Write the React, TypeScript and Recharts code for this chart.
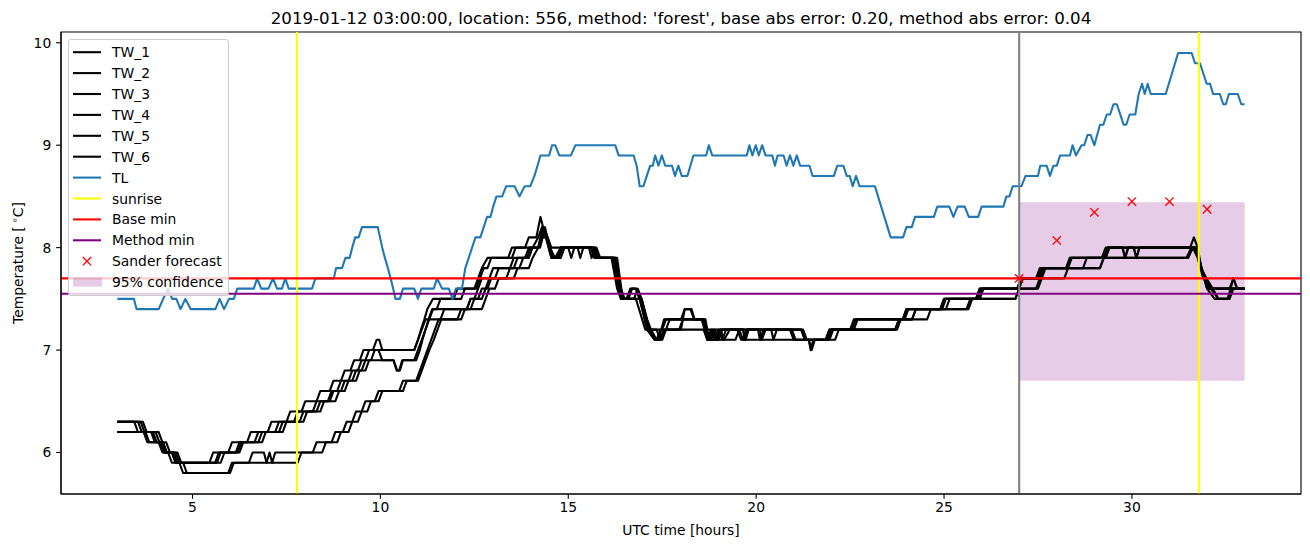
import React from 'react';
import { ComposedChart, Line, XAxis, YAxis, ReferenceLine, ReferenceArea } from 'recharts';

type P = [number, number];

const TITLE = "2019-01-12 03:00:00, location: 556, method: 'forest', base abs error: 0.20, method abs error: 0.04";
const X_LABEL = 'UTC time [hours]';
const X_DOMAIN: [number, number] = [1.5, 34.5];
const Y_DOMAIN: [number, number] = [5.595, 10.105];
const X_TICKS = [5, 10, 15, 20, 25, 30];
const Y_TICKS = [6, 7, 8, 9, 10];

const SUNRISE = [7.78, 31.78];
const FORECAST_START = 27;
const BASE_MIN = 7.7;
const METHOD_MIN = 7.55;
const BAND_T: [number, number] = [27, 33];
const BAND_LO = 6.70;
const BAND_HI = 8.443;

const FORECAST_T = [27, 28, 29, 30, 31, 32];
const FORECAST_V = [7.70, 8.07, 8.345, 8.45, 8.45, 8.375];

const TL: P[] = [[3.0,7.5],[3.44,7.5],[3.51,7.4],[4.1,7.4],[4.22,7.5],[4.35,7.6],[4.46,7.5],[4.57,7.5],[4.68,7.4],[4.81,7.5],[4.95,7.4],[5.61,7.4],[5.72,7.5],[5.84,7.4],[5.97,7.5],[6.1,7.5],[6.19,7.6],[6.63,7.6],[6.72,7.7],[6.83,7.6],[7.02,7.6],[7.14,7.7],[7.25,7.6],[7.38,7.6],[7.47,7.7],[7.56,7.6],[8.18,7.6],[8.27,7.7],[8.76,7.7],[8.82,7.8],[8.98,7.8],[9.07,7.9],[9.18,7.9],[9.25,8.0],[9.33,8.1],[9.42,8.1],[9.51,8.2],[9.93,8.2],[10.05,8.0],[10.12,7.9],[10.2,7.8],[10.27,7.7],[10.34,7.6],[10.4,7.5],[10.52,7.5],[10.6,7.6],[10.9,7.6],[11.0,7.5],[11.09,7.6],[11.42,7.6],[11.51,7.7],[11.64,7.6],[11.82,7.6],[11.92,7.5],[12.01,7.6],[12.17,7.6],[12.26,7.8],[12.35,7.9],[12.44,8.0],[12.53,8.1],[12.66,8.1],[12.75,8.2],[12.84,8.3],[12.93,8.3],[13.0,8.4],[13.09,8.5],[13.24,8.5],[13.35,8.6],[13.57,8.6],[13.7,8.5],[13.84,8.6],[13.99,8.6],[14.1,8.7],[14.18,8.8],[14.26,8.9],[14.49,8.9],[14.57,9.0],[14.65,9.0],[14.76,8.9],[15.07,8.9],[15.19,9.0],[16.25,9.0],[16.34,8.9],[16.74,8.9],[16.82,8.8],[16.9,8.6],[17.0,8.6],[17.09,8.7],[17.18,8.8],[17.25,8.8],[17.31,8.9],[17.4,8.8],[17.49,8.9],[17.58,8.8],[17.76,8.8],[17.84,8.7],[17.93,8.8],[18.02,8.7],[18.17,8.7],[18.25,8.8],[18.33,8.9],[18.67,8.9],[18.74,9.0],[18.83,8.9],[19.75,8.9],[19.82,9.0],[19.9,8.9],[19.99,9.0],[20.07,8.9],[20.16,9.0],[20.25,8.9],[20.43,8.9],[20.5,8.8],[20.57,8.9],[20.73,8.9],[20.81,8.8],[20.9,8.9],[20.99,8.8],[21.08,8.9],[21.17,8.8],[21.42,8.8],[21.5,8.7],[22.07,8.7],[22.16,8.8],[22.32,8.8],[22.41,8.7],[22.49,8.7],[22.57,8.6],[22.66,8.7],[22.75,8.6],[23.16,8.6],[23.58,8.1],[23.91,8.1],[24.0,8.2],[24.14,8.2],[24.23,8.3],[24.73,8.3],[24.82,8.4],[25.14,8.4],[25.25,8.3],[25.36,8.4],[25.55,8.4],[25.66,8.3],[25.91,8.3],[26.0,8.4],[26.58,8.4],[26.66,8.5],[26.74,8.5],[26.83,8.6],[27.06,8.6],[27.17,8.7],[27.5,8.7],[27.56,8.8],[27.73,8.8],[27.82,8.7],[27.91,8.8],[28.0,8.8],[28.09,8.9],[28.35,8.9],[28.42,9.0],[28.51,8.9],[28.66,9.0],[28.73,9.0],[28.82,9.1],[28.9,9.1],[29.0,9.0],[29.15,9.2],[29.24,9.2],[29.33,9.3],[29.42,9.3],[29.51,9.4],[29.6,9.4],[29.78,9.2],[29.85,9.2],[29.94,9.3],[30.09,9.3],[30.18,9.5],[30.27,9.6],[30.34,9.5],[30.42,9.6],[30.5,9.5],[30.9,9.5],[31.23,9.9],[31.59,9.9],[31.68,9.8],[31.81,9.8],[31.99,9.6],[32.08,9.6],[32.16,9.5],[32.34,9.5],[32.43,9.4],[32.5,9.4],[32.58,9.5],[32.82,9.5],[32.91,9.4],[33.0,9.4]];

const TW_1: P[] = [[3,6.3],[3.55,6.3],[3.65,6.2],[3.95,6.2],[4.05,6.1],[4.15,6.1],[4.25,6.0],[4.35,6.0],[4.45,5.9],[5.45,5.9],[5.55,6.0],[5.95,6.0],[6.05,6.1],[6.45,6.1],[6.55,6.2],[7.0,6.2],[7.1,6.3],[7.5,6.3],[7.6,6.4],[7.9,6.4],[8.0,6.5],[8.3,6.5],[8.4,6.6],[8.65,6.6],[8.75,6.7],[8.95,6.7],[9.05,6.8],[9.2,6.8],[9.3,6.9],[9.45,6.9],[9.55,7.0],[9.8,7.0],[9.9,7.1],[9.97,7.1],[10.05,7.0],[10.9,7.0],[11.0,7.1],[11.08,7.2],[11.17,7.3],[11.25,7.4],[11.4,7.5],[11.95,7.5],[12.05,7.6],[12.5,7.6],[12.6,7.7],[12.7,7.8],[12.85,7.9],[13.4,7.9],[13.5,8.0],[13.85,8.0],[13.95,8.1],[14.15,8.1],[14.26,8.3],[14.4,8.1],[14.55,7.9],[14.7,7.9],[14.8,8.0],[15.6,8.0],[15.7,7.9],[16.15,7.9],[16.3,7.6],[16.4,7.5],[16.6,7.5],[16.7,7.6],[16.8,7.6],[16.9,7.5],[17.1,7.2],[17.3,7.1],[17.42,7.1],[17.55,7.2],[17.95,7.2],[18.05,7.3],[18.6,7.3],[18.7,7.1],[18.8,7.2],[18.9,7.1],[19.0,7.2],[19.1,7.1],[19.2,7.2],[20.1,7.2],[20.15,7.1],[20.25,7.2],[21.2,7.2],[21.3,7.1],[21.85,7.1],[21.95,7.2],[22.5,7.2],[22.6,7.3],[23.9,7.3],[24.0,7.4],[24.9,7.4],[25.0,7.5],[25.85,7.5],[25.95,7.6],[26.95,7.6],[27.05,7.7],[27.5,7.7],[27.6,7.8],[28.25,7.8],[28.35,7.9],[29.2,7.9],[29.3,8.0],[29.75,8.0],[29.82,7.9],[29.9,8.0],[31.55,8.0],[31.65,8.1],[31.75,8.0],[31.85,7.8],[32.0,7.6],[32.6,7.6],[32.7,7.7],[32.8,7.6],[33,7.6]];

const TW_2: P[] = [[3,6.3],[3.62,6.3],[3.72,6.2],[4.02,6.2],[4.12,6.1],[4.22,6.1],[4.32,6.0],[4.45,6.0],[4.55,5.9],[5.6,5.9],[5.7,6.0],[6.15,6.0],[6.25,6.1],[6.65,6.1],[6.75,6.2],[7.2,6.2],[7.3,6.3],[7.7,6.3],[7.8,6.4],[8.2,6.4],[8.3,6.5],[8.6,6.5],[8.7,6.6],[8.85,6.6],[8.95,6.7],[9.15,6.7],[9.25,6.8],[9.4,6.8],[9.5,6.9],[9.6,6.9],[9.7,7.0],[9.95,7.0],[10.05,6.9],[10.35,6.9],[10.43,6.8],[10.5,6.8],[10.58,6.9],[10.95,6.9],[11.05,7.0],[11.12,7.1],[11.2,7.2],[11.28,7.3],[11.38,7.4],[11.5,7.4],[11.6,7.5],[12.15,7.5],[12.25,7.6],[12.55,7.6],[12.65,7.7],[12.75,7.8],[12.85,7.8],[12.95,7.9],[13.5,7.9],[13.6,8.0],[14.2,8.0],[14.32,8.2],[14.42,8.1],[14.52,8.0],[14.62,7.9],[14.8,7.9],[14.9,8.0],[15.0,8.0],[15.08,7.9],[15.16,8.0],[15.65,8.0],[15.75,7.9],[16.2,7.9],[16.35,7.6],[16.45,7.5],[16.75,7.5],[16.85,7.6],[16.95,7.5],[17.15,7.2],[17.35,7.1],[17.5,7.1],[17.6,7.2],[18.0,7.2],[18.1,7.4],[18.28,7.4],[18.36,7.3],[18.62,7.3],[18.75,7.1],[18.85,7.2],[18.95,7.1],[19.05,7.2],[19.15,7.1],[19.3,7.2],[19.65,7.2],[19.7,7.1],[19.78,7.2],[20.4,7.2],[20.46,7.1],[20.55,7.2],[21.25,7.2],[21.35,7.1],[21.9,7.1],[22.0,7.2],[22.6,7.2],[22.7,7.3],[24.15,7.3],[24.25,7.4],[25.05,7.4],[25.15,7.5],[25.9,7.5],[26.0,7.6],[26.95,7.6],[27.05,7.7],[27.55,7.7],[27.65,7.8],[28.3,7.8],[28.4,7.9],[29.3,7.9],[29.4,8.0],[31.72,8.0],[31.85,7.8],[32.05,7.6],[33,7.6]];

const TW_3: P[] = [[3,6.3],[3.68,6.3],[3.78,6.2],[4.1,6.2],[4.2,6.1],[4.3,6.1],[4.4,6.0],[4.55,6.0],[4.65,5.9],[5.65,5.9],[5.75,6.0],[6.2,6.0],[6.3,6.1],[6.75,6.1],[6.85,6.2],[7.3,6.2],[7.4,6.3],[7.85,6.3],[7.95,6.4],[8.3,6.4],[8.4,6.5],[8.65,6.5],[8.75,6.6],[8.95,6.6],[9.05,6.7],[9.25,6.7],[9.35,6.8],[9.5,6.8],[9.6,6.9],[9.75,6.9],[9.85,7.0],[10.9,7.0],[11.0,7.1],[11.1,7.2],[11.2,7.3],[11.3,7.3],[11.4,7.4],[12.3,7.4],[12.4,7.5],[12.7,7.5],[12.8,7.6],[12.9,7.7],[13.0,7.8],[13.55,7.8],[13.65,7.9],[13.9,7.9],[14.0,8.0],[14.2,8.0],[14.35,8.2],[14.45,8.1],[14.6,7.9],[14.75,7.9],[14.85,8.0],[15.55,8.0],[15.62,7.9],[15.7,8.0],[15.8,7.9],[16.25,7.9],[16.4,7.5],[16.8,7.5],[17.05,7.2],[17.35,7.2],[17.45,7.1],[17.6,7.2],[17.7,7.3],[18.55,7.3],[18.7,7.2],[19.55,7.2],[19.65,7.1],[19.75,7.2],[20.9,7.2],[21.0,7.1],[21.4,7.1],[21.45,7.0],[21.52,7.1],[22.1,7.1],[22.2,7.2],[23.75,7.2],[23.85,7.3],[24.55,7.3],[24.65,7.4],[25.65,7.4],[25.75,7.5],[26.9,7.5],[27.0,7.6],[27.5,7.6],[27.6,7.7],[27.7,7.8],[29.15,7.8],[29.25,7.9],[31.45,7.9],[31.58,8.0],[31.7,8.0],[31.85,7.8],[32.1,7.6],[32.3,7.5],[32.55,7.5],[32.65,7.6],[33,7.6]];

const TW_4: P[] = [[3,6.2],[3.75,6.2],[3.85,6.1],[4.2,6.1],[4.3,6.0],[4.6,6.0],[4.7,5.9],[5.75,5.9],[5.85,6.0],[6.25,6.0],[6.35,6.1],[6.85,6.1],[6.95,6.2],[7.4,6.2],[7.5,6.3],[7.95,6.3],[8.05,6.4],[8.4,6.4],[8.5,6.5],[8.8,6.5],[8.9,6.6],[9.05,6.6],[9.15,6.7],[9.35,6.7],[9.45,6.8],[9.6,6.8],[9.7,6.9],[10.35,6.9],[10.45,6.8],[10.52,6.8],[10.6,6.9],[10.9,6.9],[11.0,7.0],[11.1,7.1],[11.2,7.2],[11.3,7.3],[11.6,7.3],[11.7,7.4],[12.4,7.4],[12.5,7.5],[12.6,7.6],[12.7,7.7],[13.05,7.7],[13.15,7.8],[13.45,7.8],[13.55,7.9],[13.85,7.9],[13.95,8.0],[14.25,8.0],[14.38,8.2],[14.5,8.0],[14.65,7.9],[14.8,8.0],[15.7,8.0],[15.8,7.9],[16.25,7.9],[16.4,7.6],[16.5,7.5],[16.95,7.5],[17.1,7.3],[17.2,7.2],[17.35,7.1],[17.45,7.2],[18.6,7.2],[18.7,7.1],[19.45,7.1],[19.55,7.2],[20.95,7.2],[21.05,7.1],[21.9,7.1],[22.0,7.2],[22.55,7.2],[22.65,7.3],[23.95,7.3],[24.05,7.4],[24.95,7.4],[25.05,7.5],[25.95,7.5],[26.05,7.6],[27.0,7.6],[27.1,7.7],[27.55,7.7],[27.65,7.8],[28.7,7.8],[28.8,7.9],[29.3,7.9],[29.4,8.0],[29.75,8.0],[29.82,7.9],[29.9,8.0],[30.05,8.0],[30.12,7.9],[30.2,8.0],[31.7,8.0],[31.82,7.8],[32.15,7.6],[32.3,7.5],[32.55,7.5],[32.7,7.7],[32.8,7.6],[33,7.6]];

const TW_5: P[] = [[3,6.3],[3.45,6.3],[3.55,6.2],[3.9,6.2],[4.0,6.1],[4.15,6.1],[4.25,6.0],[4.45,6.0],[4.55,5.9],[4.65,5.9],[4.75,5.8],[5.95,5.8],[6.05,5.9],[6.5,5.9],[6.6,6.0],[6.9,6.0],[6.97,5.9],[7.05,6.0],[7.12,5.9],[7.2,6.0],[8.2,6.0],[8.3,6.1],[8.7,6.1],[8.8,6.2],[9.0,6.2],[9.1,6.3],[9.25,6.3],[9.35,6.4],[9.5,6.4],[9.6,6.5],[9.85,6.5],[9.95,6.6],[10.5,6.6],[10.6,6.7],[10.95,6.7],[11.05,6.8],[11.15,6.9],[11.25,7.0],[11.35,7.1],[11.45,7.2],[11.55,7.3],[12.05,7.3],[12.15,7.4],[12.3,7.4],[12.4,7.5],[12.6,7.5],[12.7,7.6],[12.85,7.6],[12.95,7.7],[13.35,7.7],[13.45,7.8],[13.7,7.8],[13.8,7.9],[13.95,7.9],[14.05,8.0],[14.2,8.1],[14.3,8.2],[14.45,8.1],[14.55,8.0],[15.25,8.0],[15.32,7.9],[15.4,8.0],[15.75,8.0],[15.85,7.9],[16.2,7.9],[16.35,7.6],[16.45,7.5],[16.55,7.5],[16.65,7.6],[16.8,7.6],[16.9,7.5],[17.1,7.2],[17.3,7.1],[17.4,7.1],[17.55,7.3],[18.0,7.3],[18.1,7.4],[18.25,7.4],[18.35,7.3],[18.55,7.3],[18.7,7.1],[18.8,7.1],[18.9,7.2],[19.0,7.1],[19.1,7.2],[19.5,7.2],[19.6,7.1],[21.4,7.1],[21.48,7.0],[21.56,7.1],[21.85,7.1],[21.95,7.2],[23.7,7.2],[23.8,7.3],[24.15,7.3],[24.25,7.4],[25.6,7.4],[25.7,7.5],[26.9,7.5],[27.0,7.6],[27.45,7.6],[27.55,7.7],[28.2,7.7],[28.3,7.8],[29.15,7.8],[29.25,7.9],[31.5,7.9],[31.62,8.0],[31.75,7.9],[31.9,7.7],[32.1,7.6],[33,7.6]];

const TW_6: P[] = [[3,6.2],[3.7,6.2],[3.8,6.1],[4.1,6.1],[4.2,6.0],[4.5,6.0],[4.6,5.9],[4.75,5.9],[4.85,5.8],[6.0,5.8],[6.1,5.9],[7.8,5.9],[7.9,6.0],[8.45,6.0],[8.55,6.1],[8.85,6.1],[8.95,6.2],[9.15,6.2],[9.25,6.3],[9.4,6.3],[9.5,6.4],[9.65,6.4],[9.75,6.5],[9.95,6.5],[10.05,6.6],[10.6,6.6],[10.7,6.7],[11.0,6.7],[11.1,6.8],[11.2,6.9],[11.3,7.0],[11.42,7.1],[11.52,7.2],[11.62,7.3],[12.15,7.3],[12.25,7.4],[12.7,7.4],[12.8,7.5],[12.9,7.6],[13.05,7.6],[13.15,7.7],[13.55,7.7],[13.65,7.8],[13.95,7.8],[14.05,7.9],[14.2,8.0],[14.32,8.1],[14.42,8.1],[14.55,7.9],[14.7,7.9],[14.8,8.0],[15.6,8.0],[15.7,7.9],[16.3,7.9],[16.45,7.5],[16.95,7.5],[17.15,7.2],[17.5,7.2],[17.6,7.3],[18.65,7.3],[18.75,7.1],[18.95,7.1],[19.05,7.2],[19.65,7.2],[19.72,7.1],[19.8,7.2],[20.05,7.2],[20.1,7.1],[20.2,7.2],[21.2,7.2],[21.3,7.1],[21.95,7.1],[22.05,7.2],[23.7,7.2],[23.8,7.3],[23.9,7.3],[24.0,7.4],[24.9,7.4],[25.0,7.5],[25.85,7.5],[25.95,7.6],[26.95,7.6],[27.05,7.7],[27.45,7.7],[27.55,7.8],[28.25,7.8],[28.35,7.9],[29.25,7.9],[29.35,8.0],[30.05,8.0],[30.12,7.9],[30.2,8.0],[31.65,8.0],[31.78,7.9],[32.0,7.6],[32.2,7.5],[32.6,7.5],[32.7,7.6],[33,7.6]];

const TW_NAMES = ['TW_1', 'TW_2', 'TW_3', 'TW_4', 'TW_5', 'TW_6'];
const TW_DATA = [TW_1, TW_2, TW_3, TW_4, TW_5, TW_6];

const C_TW = '#000000';
const C_TL = '#1f77b4';
const C_SUN = '#ffff00';
const C_BASE = '#ff0000';
const C_METHOD = '#800080';
const C_VLINE = '#808080';
const C_FC = '#ff0000';
const C_BAND = '#800080';

const FONT = "'DejaVu Sans', Verdana, sans-serif";
const LW = 2.08;
const FS = 13.89;

const toPts = (arr: P[]) => arr.map(([t, v]) => ({ t, v }));
const FORECAST_PTS = FORECAST_T.map((t, i) => ({ t, v: FORECAST_V[i] }));

type LegendItem = { name: string; kind: 'line' | 'x' | 'patch'; color: string };
const LEGEND: LegendItem[] = [
  ...TW_NAMES.map((n) => ({ name: n, kind: 'line' as const, color: C_TW })),
  { name: 'TL', kind: 'line', color: C_TL },
  { name: 'sunrise', kind: 'line', color: C_SUN },
  { name: 'Base min', kind: 'line', color: C_BASE },
  { name: 'Method min', kind: 'line', color: C_METHOD },
  { name: 'Sander forecast', kind: 'x', color: C_FC },
  { name: '95% confidence', kind: 'patch', color: C_BAND },
];

const XS = 4.17;
const XMark = (props: any) => {
  const { cx, cy, index } = props;
  if (cx == null || cy == null) return <g key={`xm-${index}`} />;
  return (
    <g key={`xm-${index}`}>
      <line x1={cx - XS} y1={cy - XS} x2={cx + XS} y2={cy + XS} stroke={C_FC} strokeWidth={1.39} />
      <line x1={cx - XS} y1={cy + XS} x2={cx + XS} y2={cy - XS} stroke={C_FC} strokeWidth={1.39} />
    </g>
  );
};

const tickStyle = { fill: '#000', fontSize: FS, fontFamily: FONT };
const axStroke = { stroke: '#000', strokeWidth: 1.11 };

const Legend = () => {
  const rowH = 20.9;
  const y0 = 12.2;
  return (
    <div
      style={{
        position: 'absolute', left: 68, top: 39, width: 161, height: 257, boxSizing: 'border-box',
        border: '1px solid #cccccc', borderRadius: 3, background: 'rgba(255,255,255,0.8)',
      }}
    >
      <svg width={159} height={255} style={{ position: 'absolute', left: 0, top: 0 }}>
        {LEGEND.map((it, i) => {
          const cy = y0 + i * rowH;
          let handle: React.ReactNode = null;
          if (it.kind === 'line') {
            handle = <line x1={4} x2={32} y1={cy} y2={cy} stroke={it.color} strokeWidth={LW} />;
          } else if (it.kind === 'x') {
            handle = (
              <g>
                <line x1={18 - XS} y1={cy - XS} x2={18 + XS} y2={cy + XS} stroke={it.color} strokeWidth={1.39} />
                <line x1={18 - XS} y1={cy + XS} x2={18 + XS} y2={cy - XS} stroke={it.color} strokeWidth={1.39} />
              </g>
            );
          } else {
            handle = <rect x={4} y={cy - 4.5} width={29} height={9} fill={it.color} fillOpacity={0.2} />;
          }
          return (
            <g key={it.name}>
              {handle}
              <text x={43} y={cy + 5} fontSize={FS} fontFamily={FONT} fill="#000">{it.name}</text>
            </g>
          );
        })}
      </svg>
    </div>
  );
};

export default function App() {
  return (
    <div style={{ position: 'absolute', left: 0, top: 0, width: 1310, height: 547, background: '#fff', fontFamily: FONT }}>
      <ComposedChart width={1310} height={547} margin={{ top: 32, right: 9, bottom: 0, left: 0 }}>
        <XAxis
          dataKey="t" type="number" domain={X_DOMAIN} ticks={X_TICKS} allowDataOverflow
          height={53} tickSize={4.86} tickMargin={3.6} tick={tickStyle} axisLine={axStroke} tickLine={axStroke}
        />
        <YAxis
          type="number" domain={Y_DOMAIN} ticks={Y_TICKS} allowDataOverflow
          width={61} tickSize={4.86} tickMargin={4.86} tick={tickStyle} axisLine={axStroke} tickLine={axStroke}
        />
        <ReferenceArea x1={BAND_T[0]} x2={BAND_T[1]} y1={BAND_LO} y2={BAND_HI} fill={C_BAND} fillOpacity={0.2} stroke="none" />
        {TW_DATA.map((d, i) => (
          <Line key={TW_NAMES[i]} data={toPts(d)} dataKey="v" name={TW_NAMES[i]} type="linear"
            stroke={C_TW} strokeWidth={LW} strokeLinejoin="round" dot={false} activeDot={false} isAnimationActive={false} />
        ))}
        <Line data={toPts(TL)} dataKey="v" name="TL" type="linear" stroke={C_TL} strokeWidth={LW} strokeLinejoin="round"
          dot={false} activeDot={false} isAnimationActive={false} />
        {SUNRISE.map((s) => (
          <ReferenceLine key={`sun-${s}`} x={s} stroke={C_SUN} strokeWidth={LW} />
        ))}
        <ReferenceLine y={BASE_MIN} stroke={C_BASE} strokeWidth={LW} />
        <ReferenceLine y={METHOD_MIN} stroke={C_METHOD} strokeWidth={LW} />
        <ReferenceLine x={FORECAST_START} stroke={C_VLINE} strokeWidth={LW} />
        <Line data={FORECAST_PTS} dataKey="v" name="Sander forecast" stroke="none" strokeWidth={0}
          dot={XMark} activeDot={false} isAnimationActive={false} />
        <ReferenceArea x1={X_DOMAIN[0]} x2={X_DOMAIN[1]} y1={Y_DOMAIN[0]} y2={Y_DOMAIN[1]} fill="none" stroke="#000" strokeWidth={1.11} />
      </ComposedChart>
      <svg width={1310} height={547} style={{ position: 'absolute', left: 0, top: 0, pointerEvents: 'none' }}>
        <text x={681} y={24} textAnchor="middle" fontSize={16.67} fontFamily={FONT} fill="#000">{TITLE}</text>
        <text x={681} y={535} textAnchor="middle" fontSize={FS} fontFamily={FONT} fill="#000">{X_LABEL}</text>
        <text transform="translate(23,263) rotate(-90)" textAnchor="middle" fontSize={FS} fontFamily={FONT} fill="#000">
          <tspan>Temperature [</tspan>
          <tspan dx={3} dy={-5.5} fontSize={9.7}>{'\u2218'}</tspan>
          <tspan dy={5.5}>C]</tspan>
        </text>
      </svg>
      <Legend />
    </div>
  );
}
